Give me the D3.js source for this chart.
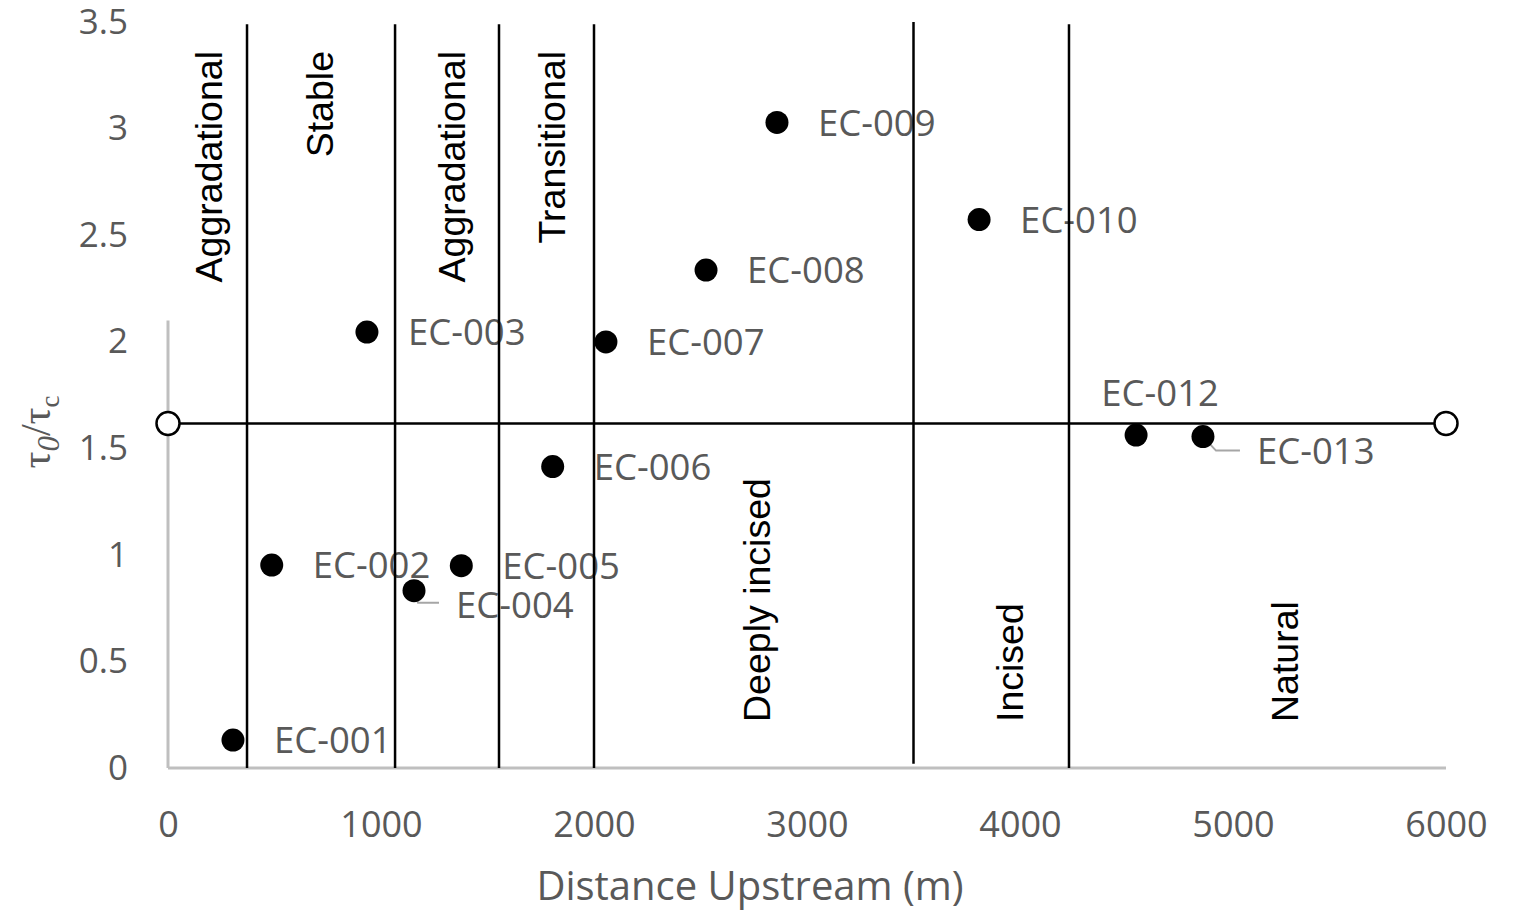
<!DOCTYPE html>
<html>
<head>
<meta charset="utf-8">
<script src="https://cdn.jsdelivr.net/npm/d3@7"></script>
<style>
  html, body { margin: 0; padding: 0; background: #ffffff; }
  svg { display: block; }
</style>
</head>
<body>
<svg id="chart" width="1519" height="913"></svg>
<script>
// ---------- data ----------
const siteNames   = ["EC-001","EC-002","EC-003","EC-004","EC-005","EC-006","EC-007","EC-008","EC-009","EC-010","EC-012","EC-013"];
const distanceM   = [305, 487, 934, 1155, 1377, 1806, 2056, 2526, 2859, 3808, 4545, 4859];
const shearRatio  = [0.131, 0.952, 2.045, 0.832, 0.949, 1.414, 1.999, 2.336, 3.029, 2.573, 1.562, 1.555];

const thresholdX  = [0, 6000];
const thresholdY  = [1.616, 1.616];

const boundaryX   = [371, 1066, 1554, 2000, 3500, 4230];
const boundaryLow = [0, 0, 0, 0, 0.02, 0];
const boundaryTop = [3.49, 3.49, 3.49, 3.49, 3.5, 3.49];

const zoneNames   = ["Aggradational","Stable","Aggradational","Transitional","Deeply incised","Incised","Natural"];
const zoneX       = [253, 775, 1394, 1866, 2826, 4014, 5305];
const zoneRow     = ["top","top","top","top","bottom","bottom","bottom"];

const xTicks      = [0, 1000, 2000, 3000, 4000, 5000, 6000];
const yTicks      = [0, 0.5, 1, 1.5, 2, 2.5, 3, 3.5];
const yTickLabels = ["0","0.5","1","1.5","2","2.5","3","3.5"];
const xTitle      = "Distance Upstream (m)";

// ---------- scales ----------
const svg = d3.select("#chart");
const x = d3.scaleLinear().domain([0, 6000]).range([168, 1446]);
const y = d3.scaleLinear().domain([0, 3.5]).range([768, 22]);

const grayText = "#595959";
const axisGray = "#bfbfbf";
const labelFont = "'Open Sans', 'DejaVu Sans', sans-serif";

// ---------- axes ----------
svg.append("line")
  .attr("x1", x(0)).attr("x2", x(6000))
  .attr("y1", y(0)).attr("y2", y(0))
  .attr("stroke", axisGray).attr("stroke-width", 3);
svg.append("line")
  .attr("x1", x(0)).attr("x2", x(0))
  .attr("y1", y(0)).attr("y2", y(2.1))
  .attr("stroke", axisGray).attr("stroke-width", 3);

const xAxis = d3.axisBottom(x).tickValues(xTicks).tickSize(0).tickPadding(43)
  .tickFormat(d3.format("d"));
const gx = svg.append("g").attr("transform", `translate(0,${y(0)})`).call(xAxis);
gx.select(".domain").remove();
gx.selectAll("text").attr("fill", grayText).attr("font-family", labelFont).attr("font-size", 36);

const yAxis = d3.axisLeft(y).tickValues(yTicks).tickSize(0).tickPadding(40)
  .tickFormat((d, i) => yTickLabels[i]);
const gy = svg.append("g").attr("transform", `translate(${x(0)},0)`).call(yAxis);
gy.select(".domain").remove();
gy.selectAll("text").attr("fill", grayText).attr("font-family", labelFont).attr("font-size", 35);

// axis titles
svg.append("text")
  .attr("x", 750).attr("y", 900)
  .attr("text-anchor", "middle")
  .attr("fill", grayText).attr("font-family", labelFont).attr("font-size", 40)
  .text(xTitle);

const yt = svg.append("text")
  .attr("transform", "translate(50,432) rotate(-90)")
  .attr("text-anchor", "middle")
  .attr("fill", grayText)
  .attr("font-family", "'Liberation Serif', 'DejaVu Serif', serif")
  .attr("font-size", 42);
yt.append("tspan").text("τ");
yt.append("tspan").attr("font-size", 31).attr("font-style", "italic").attr("dy", 9).text("0");
yt.append("tspan").attr("dy", -9).text("/");
yt.append("tspan").text("τ");
yt.append("tspan").attr("font-size", 27).attr("dy", 9).text("c");

// ---------- zone labels ----------
zoneNames.forEach((name, i) => {
  const isTop = zoneRow[i] === "top";
  const yy = isTop ? 51 : 722;
  svg.append("text")
    .attr("transform", `translate(${x(zoneX[i])},${yy}) rotate(-90)`)
    .attr("text-anchor", isTop ? "end" : "start")
    .attr("fill", "#000")
    .attr("font-family", "'Liberation Sans', Arial, sans-serif")
    .attr("font-size", 37.5)
    .text(name);
});

// ---------- point labels ----------
const points = siteNames.map((n, i) => ({ name: n, x: distanceM[i], y: shearRatio[i] }));
const labelOffset = {
  "EC-004": { dx: 42, dy: 14, anchor: "start", leader: [[0,0],[4,12],[25,12]] },
  "EC-012": { dx: 24, dy: -42, anchor: "middle" },
  "EC-013": { dx: 54, dy: 14, anchor: "start", leader: [[0,0],[13,14],[37,14]] }
};

points.forEach(p => {
  const o = labelOffset[p.name] || { dx: 41, dy: 0, anchor: "start" };
  const px = x(p.x), py = y(p.y);
  if (o.leader) {
    svg.append("path")
      .attr("d", d3.line()(o.leader.map(([a, b]) => [px + a, py + b])))
      .attr("fill", "none").attr("stroke", "#a6a6a6").attr("stroke-width", 2);
  }
  svg.append("text")
    .attr("x", px + o.dx).attr("y", py + o.dy)
    .attr("dy", "0.36em")
    .attr("text-anchor", o.anchor)
    .attr("fill", grayText).attr("font-family", labelFont).attr("font-size", 36.5)
    .text(p.name);
});

// ---------- boundary lines ----------
svg.append("g").selectAll("line").data(boundaryX).join("line")
  .attr("x1", d => x(d)).attr("x2", d => x(d))
  .attr("y1", (d, i) => y(boundaryLow[i]))
  .attr("y2", (d, i) => y(boundaryTop[i]))
  .attr("stroke", "#000").attr("stroke-width", 2.5);

// ---------- threshold line ----------
const thr = thresholdX.map((d, i) => [d, thresholdY[i]]);
svg.append("path")
  .attr("d", d3.line().x(d => x(d[0])).y(d => y(d[1]))(thr))
  .attr("fill", "none").attr("stroke", "#000").attr("stroke-width", 2.5);
svg.append("g").selectAll("circle").data(thr).join("circle")
  .attr("cx", d => x(d[0])).attr("cy", d => y(d[1])).attr("r", 11.5)
  .attr("fill", "#fff").attr("stroke", "#000").attr("stroke-width", 2.5);

// ---------- points ----------
svg.append("g").selectAll("circle").data(points).join("circle")
  .attr("cx", d => x(d.x)).attr("cy", d => y(d.y)).attr("r", 11.5)
  .attr("fill", "#000");
</script>
</body>
</html>
